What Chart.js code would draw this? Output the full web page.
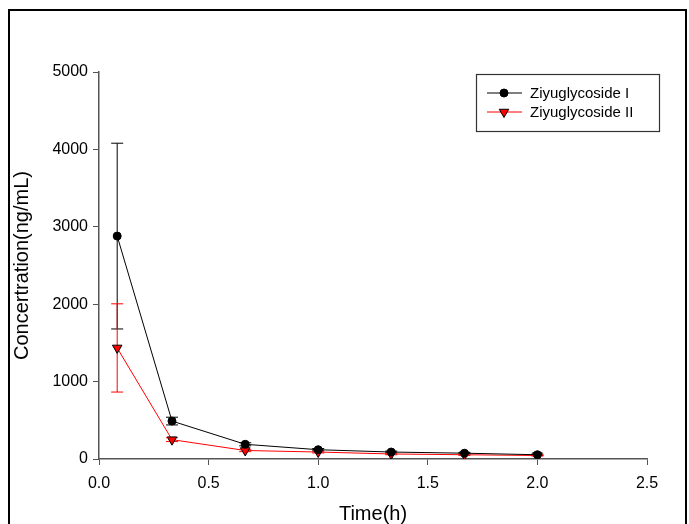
<!DOCTYPE html>
<html>
<head>
<meta charset="utf-8">
<script src="https://cdn.jsdelivr.net/npm/chart.js@4"></script>
<style>
  body { margin: 0; background: #fff; }
  #wrap { position: relative; width: 689px; height: 524px; overflow: hidden; }
  #frame { position: absolute; left: 8px; top: 9px; width: 675px; height: 560px; border: 2px solid #000; }
  #myChart { position: absolute; left: 0; top: 0; }
</style>
</head>
<body>
<div id="wrap">
  <div id="frame"></div>
  <canvas id="myChart" width="689" height="524"></canvas>
</div>
<script>
// data
const times = [0.083, 0.333, 0.667, 1.0, 1.333, 1.667, 2.0]
const seriesNames = ['Ziyuglycoside I', 'Ziyuglycoside II']
const concI = [2880, 490, 190, 120, 90, 75, 55]
const errI = [1200, 50, 20, 15, 12, 10, 8]
const concII = [1435, 250, 110, 90, 65, 55, 45]
const errII = [570, 25, 15, 12, 10, 8, 6]
const xTicks = [0, 0.5, 1.0, 1.5, 2.0, 2.5]
const yTicks = [0, 1000, 2000, 3000, 4000, 5000]

const font = '"Liberation Sans", Arial, sans-serif'
const axisColor = '#555'

const toPoints = (ys) => times.map((t, i) => ({ x: t, y: ys[i] }))

// error bars, drawn through the scales
const errorBars = {
  id: 'errorBars',
  beforeDatasetsDraw(chart) {
    const { ctx, scales: { x, y } } = chart
    chart.data.datasets.forEach((ds) => {
      ctx.save()
      ctx.strokeStyle = ds.errColor
      ctx.lineWidth = 1
      ds.data.forEach((p, i) => {
        const e = ds.errors[i]
        const px = x.getPixelForValue(p.x)
        const top = y.getPixelForValue(p.y + e)
        const bot = y.getPixelForValue(p.y - e)
        ctx.beginPath()
        ctx.moveTo(px, top); ctx.lineTo(px, bot)
        ctx.moveTo(px - 6, top); ctx.lineTo(px + 6, top)
        ctx.moveTo(px - 6, bot); ctx.lineTo(px + 6, bot)
        ctx.stroke()
      })
      ctx.restore()
    })
  }
}

// boxed legend inside the plot
const boxLegend = {
  id: 'boxLegend',
  afterDraw(chart) {
    const { ctx, chartArea } = chart
    const left = chartArea.left + 377
    const top = chartArea.top + 2
    ctx.save()
    ctx.strokeStyle = '#333'
    ctx.lineWidth = 1.2
    ctx.strokeRect(left + 0.5, top + 0.5, 183, 57)
    chart.data.datasets.forEach((ds, i) => {
      const yy = top + 19 + i * 19
      ctx.strokeStyle = ds.borderColor
      ctx.lineWidth = 1
      ctx.beginPath()
      ctx.moveTo(left + 11, yy); ctx.lineTo(left + 46, yy)
      ctx.stroke()
      ctx.fillStyle = ds.pointBackgroundColor
      ctx.strokeStyle = ds.pointBorderColor
      Chart.helpers.drawPoint(ctx, {
        pointStyle: ds.pointStyle, radius: ds.pointRadius,
        rotation: ds.pointRotation || 0, borderWidth: 1
      }, left + 28, yy)
      ctx.fillStyle = '#000'
      ctx.font = '15px ' + font
      ctx.textBaseline = 'middle'
      ctx.fillText(ds.label, left + 54, yy + 1)
    })
    ctx.restore()
  }
}

const ctx = document.getElementById('myChart')
new Chart(ctx, {
  type: 'scatter',
  data: {
    datasets: [{
      label: seriesNames[0],
      data: toPoints(concI),
      errors: errI,
      errColor: '#000',
      showLine: true,
      borderColor: '#000',
      borderWidth: 1,
      pointStyle: 'circle',
      pointRadius: 4,
      pointBackgroundColor: '#000',
      pointBorderColor: '#000',
      pointBorderWidth: 1
    }, {
      label: seriesNames[1],
      data: toPoints(concII),
      errors: errII,
      errColor: '#ff0000',
      showLine: true,
      borderColor: '#ff0000',
      borderWidth: 1,
      pointStyle: 'triangle',
      pointRotation: 180,
      pointRadius: 5.5,
      pointBackgroundColor: '#ff0000',
      pointBorderColor: '#000',
      pointBorderWidth: 1
    }]
  },
  options: {
    responsive: false,
    animation: false,
    layout: { padding: { left: 0, top: 72, right: 42, bottom: 0 } },
    plugins: {
      legend: { display: false },
      tooltip: { enabled: false }
    },
    scales: {
      x: {
        type: 'linear',
        min: 0, max: 2.5,
        afterBuildTicks: (s) => { s.ticks = xTicks.map(v => ({ value: v })) },
        afterFit: (s) => { s.height = 65 },
        border: { color: axisColor, width: 1.5 },
        grid: { drawOnChartArea: false, tickLength: 6, color: axisColor, tickWidth: 1 },
        ticks: {
          padding: 9, color: '#000',
          font: { family: font, size: 16 },
          callback: (v) => Number(v).toFixed(1)
        },
        title: {
          display: true, text: 'Time(h)', color: '#000',
          font: { family: font, size: 20, lineHeight: 1 },
          padding: { top: 0, bottom: 0 }
        }
      },
      y: {
        min: 0, max: 5000,
        afterBuildTicks: (s) => { s.ticks = yTicks.map(v => ({ value: v })) },
        afterFit: (s) => { s.width = 99 },
        border: { color: axisColor, width: 1.5 },
        grid: { drawOnChartArea: false, tickLength: 6, color: axisColor, tickWidth: 1 },
        ticks: {
          padding: 5, color: '#000',
          font: { family: font, size: 16 },
          callback: (v) => String(v)
        },
        title: {
          display: true, text: 'Concertration(ng/mL)', color: '#000',
          font: { family: font, size: 20, lineHeight: 1 },
          padding: { top: 12, bottom: 0 }
        }
      }
    }
  },
  plugins: [errorBars, boxLegend]
})
</script>
</body>
</html>
